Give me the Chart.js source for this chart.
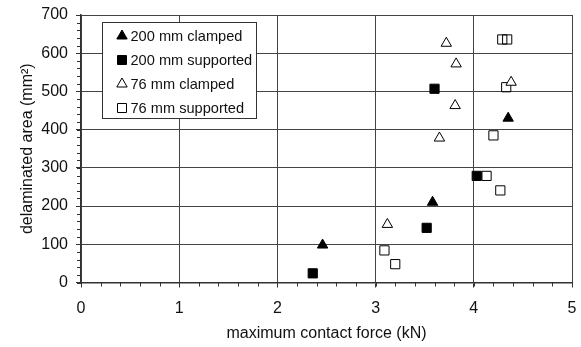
<!DOCTYPE html>
<html>
<head>
<meta charset="utf-8">
<script src="https://cdn.jsdelivr.net/npm/chart.js@4"></script>
<style>
  html, body { margin: 0; padding: 0; background: #fff; }
  #wrap { width: 581px; height: 347px; }
</style>
</head>
<body>
<div id="wrap"><canvas id="c"></canvas></div>
<script>
// datos
const clamped200X = [2.46, 3.58, 4.35];
const clamped200Y = [98, 210, 430];
const supported200X = [2.36, 3.52, 3.60, 4.03];
const supported200Y = [24, 143, 507, 279];
const clamped76X = [3.12, 3.65, 3.72, 3.81, 3.82, 4.38];
const clamped76Y = [152, 378, 626, 463, 572, 524];
const supported76X = [3.09, 3.20, 4.13, 4.20, 4.27, 4.33, 4.29, 4.34];
const supported76Y = [84, 48, 279, 385, 241, 511, 636, 636];

const seriesNames = ['200 mm clamped', '200 mm supported', '76 mm clamped', '76 mm supported'];
const xTicks = [0, 1, 2, 3, 4, 5];
const yTicks = [0, 100, 200, 300, 400, 500, 600, 700];

const FONT = 'Liberation Sans, Arial, sans-serif';

function pts(xs, ys) {
    return xs.map((x, i) => ({ x: x, y: ys[i] }));
}

// ticks menores (cada 0.2 y cada 20)
const minorTicks = {
    id: 'minorTicks',
    afterDraw(chart) {
        const ctx = chart.ctx;
        const xs = chart.scales.x, ys = chart.scales.y;
        const a = chart.chartArea;
        ctx.save();
        ctx.strokeStyle = '#333';
        ctx.lineWidth = 1;
        ctx.beginPath();
        for (let v = 0; v <= 5.001; v += 0.2) {
            const px = Math.round(xs.getPixelForValue(v)) + 0.5;
            ctx.moveTo(px, a.bottom);
            ctx.lineTo(px, a.bottom + 4);
        }
        for (let v = 0; v <= 700.1; v += 20) {
            const py = Math.round(ys.getPixelForValue(v)) + 0.5;
            ctx.moveTo(a.left - 4, py);
            ctx.lineTo(a.left, py);
        }
        ctx.stroke();
        ctx.restore();
    }
};

// leyenda dentro del area
const boxLegend = {
    id: 'boxLegend',
    afterDraw(chart) {
        const ctx = chart.ctx;
        const left = 102, top = 22, w = 154, h = 96;
        ctx.save();
        ctx.fillStyle = '#fff';
        ctx.fillRect(left, top, w, h);
        ctx.strokeStyle = '#333';
        ctx.lineWidth = 1;
        ctx.strokeRect(left + 0.5, top + 0.5, w, h);
        ctx.font = '14.6px ' + FONT;
        ctx.textBaseline = 'middle';
        chart.data.datasets.forEach((ds, i) => {
            const cy = 36 + i * 24;
            const cx = 122;
            ctx.fillStyle = ds.backgroundColor;
            ctx.strokeStyle = '#000';
            ctx.beginPath();
            if (ds.pointStyle === 'triangle') {
                const r = 6;
                ctx.moveTo(cx, cy - r);
                ctx.lineTo(cx + 0.866 * r, cy + 0.5 * r);
                ctx.lineTo(cx - 0.866 * r, cy + 0.5 * r);
                ctx.closePath();
            } else {
                ctx.rect(cx - 4.5, cy - 4.5, 9, 9);
            }
            ctx.fill();
            ctx.stroke();
            ctx.fillStyle = '#111';
            ctx.fillText(ds.label, 130.5, cy + 1);
        });
        ctx.restore();
    }
};

new Chart(document.getElementById('c'), {
    type: 'scatter',
    data: {
        datasets: [{
            label: seriesNames[0],
            data: pts(clamped200X, clamped200Y),
            pointStyle: 'triangle',
            pointRadius: 6,
            backgroundColor: '#000',
            borderColor: '#000',
            borderWidth: 1
        }, {
            label: seriesNames[1],
            data: pts(supported200X, supported200Y),
            pointStyle: 'rect',
            pointRadius: 6.5,
            backgroundColor: '#000',
            borderColor: '#000',
            borderWidth: 1
        }, {
            label: seriesNames[2],
            data: pts(clamped76X, clamped76Y),
            pointStyle: 'triangle',
            pointRadius: 6,
            backgroundColor: '#fff',
            borderColor: '#000',
            borderWidth: 1
        }, {
            label: seriesNames[3],
            data: pts(supported76X, supported76Y),
            pointStyle: 'rect',
            pointRadius: 6.5,
            backgroundColor: 'rgba(255,255,255,0)',
            borderColor: '#000',
            borderWidth: 1
        }]
    },
    options: {
        responsive: true,
        maintainAspectRatio: false,
        animation: false,
        layout: { padding: { top: 15, right: 9, left: 0, bottom: 0 } },
        plugins: {
            legend: { display: false },
            tooltip: { enabled: false }
        },
        scales: {
            x: {
                type: 'linear',
                min: 0,
                max: 5,
                afterBuildTicks: (s) => { s.ticks = xTicks.map(v => ({ value: v })); },
                afterFit: (s) => { s.height = 64.5; s.paddingLeft = 0; s.paddingRight = 0; },
                grid: { color: '#444', lineWidth: 1, tickLength: 5, tickColor: '#333' },
                border: { color: '#333', width: 1.5 },
                ticks: { color: '#111', font: { family: FONT, size: 16 }, padding: 11, maxRotation: 0 },
                title: { display: true, text: 'maximum contact force (kN)', color: '#111', font: { family: FONT, size: 16 }, padding: { top: 0, bottom: 4 } }
            },
            y: {
                type: 'linear',
                min: 0,
                max: 700,
                afterBuildTicks: (s) => { s.ticks = yTicks.map(v => ({ value: v })); },
                afterFit: (s) => { s.width = 81; s.paddingTop = 0; s.paddingBottom = 0; },
                grid: { color: '#444', lineWidth: 1, tickLength: 5, tickColor: '#333' },
                border: { color: '#333', width: 1.5 },
                ticks: { color: '#111', font: { family: FONT, size: 16 }, padding: 8 },
                title: { display: true, text: 'delaminated area (mm²)', color: '#111', font: { family: FONT, size: 16 }, padding: { top: 18, bottom: 0 } }
            }
        }
    },
    plugins: [minorTicks, boxLegend]
});
</script>
</body>
</html>
